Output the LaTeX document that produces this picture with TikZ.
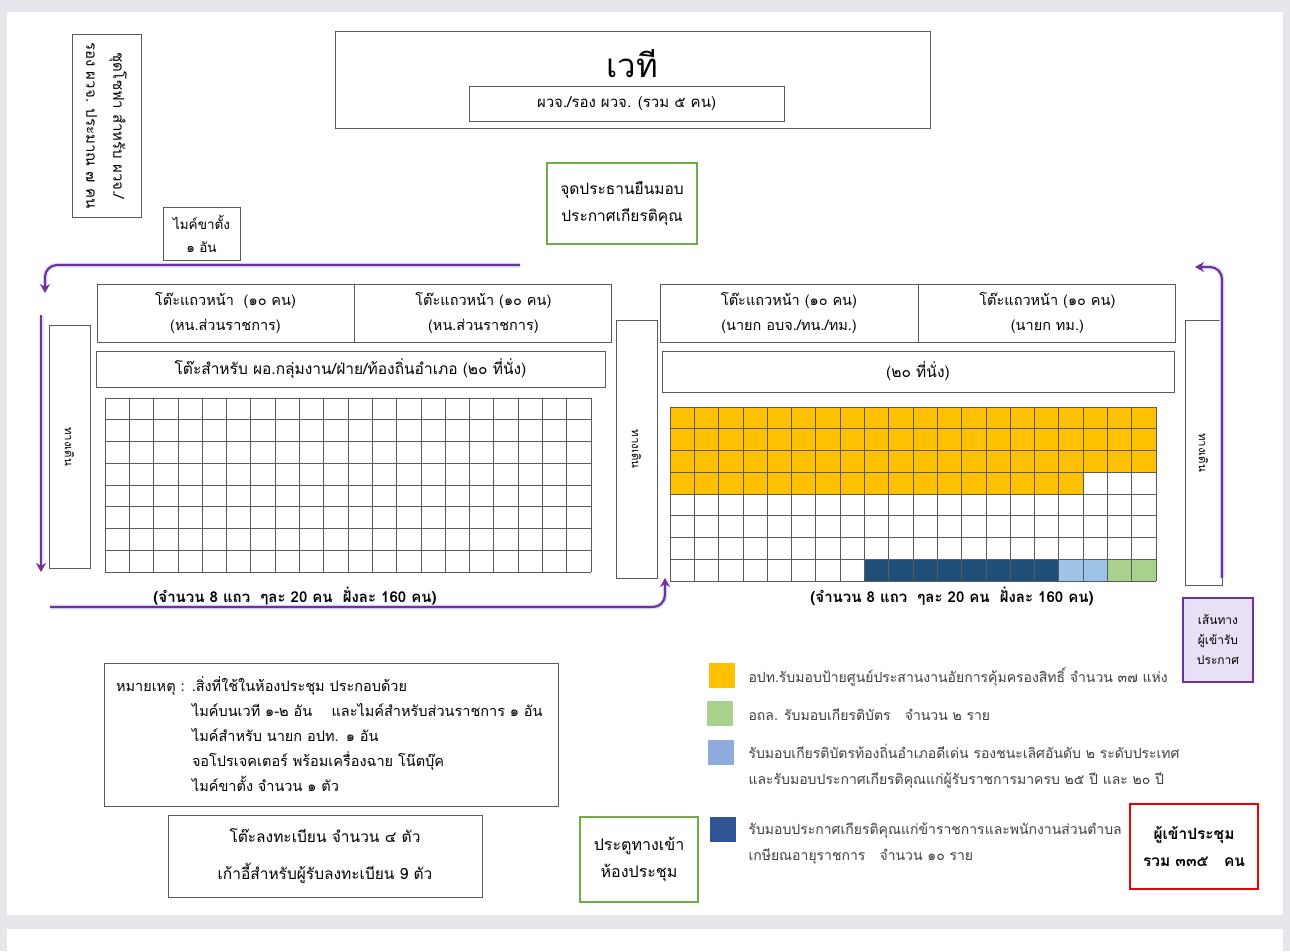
\documentclass[tikz,border=0pt]{standalone}
\usepackage{fontspec}
\setmainfont[Script=Thai]{Loma}
\usetikzlibrary{positioning, arrows.meta}
\definecolor{PageGray}{RGB}{230, 230, 236}
\definecolor{BoxGray}{RGB}{90, 90, 90}
\definecolor{DoorGreen}{RGB}{112, 173, 71}
\definecolor{RoutePurple}{RGB}{112, 48, 160}
\definecolor{RouteGlow}{RGB}{222, 232, 246}
\definecolor{RouteFill}{RGB}{232, 224, 244}
\definecolor{TotalRed}{RGB}{238, 0, 0}
\definecolor{SeatOrange}{RGB}{255, 192, 0}
\definecolor{SeatNavy}{RGB}{31, 78, 121}
\definecolor{SeatSky}{RGB}{157, 195, 230}
\definecolor{SeatGreen}{RGB}{169, 209, 142}
\definecolor{KeySky}{RGB}{143, 170, 220}
\definecolor{KeyNavy}{RGB}{47, 85, 151}
\definecolor{KeyText}{RGB}{64, 64, 64}

\begin{document}
\begin{tikzpicture}[x=1pt, y=-1pt,
    box/.style={rectangle, draw=BoxGray, line width=0.9pt, inner sep=0pt, align=center,
      font=\fontsize{14.5}{25}\selectfont},
    greenbox/.style={box, draw=DoorGreen, line width=2pt},
    aisle/.style={box, font=\fontsize{11.5}{12}\selectfont},
    keybox/.style={rectangle, inner sep=0pt, minimum width=26, minimum height=25},
    keytext/.style={anchor=west, align=left, text=KeyText, font=\fontsize{14}{26}\selectfont},
    seatline/.style={draw=BoxGray, line width=0.8pt},
    walk/.style={draw=RoutePurple, line width=2.2pt, rounded corners=12pt,
      -{Stealth[length=9pt, width=10pt]}, preaction={draw=RouteGlow, line width=5pt}}
  ]
  % page
  \fill[PageGray] (0,0) rectangle (1290,951);
  \fill[white] (7,12) rectangle (1283,915);
  \fill[white] (7,929) rectangle (1283,951);
  \useasboundingbox (0,0) rectangle (1290,951);

  % stage and top boxes
  \node[box, minimum width=595, minimum height=97] (stage) at (632.5,79.5) {};
  \node[font=\fontsize{33}{36}\selectfont] (stageTitle) at (632,64) {เวที};
  \node[box, minimum width=315, minimum height=35, font=\fontsize{15}{20}\selectfont] (stageSeats) at (626.5,103.5) {ผวจ./รอง ผวจ. (รวม ๕ คน)};
  \node[greenbox, minimum width=150, minimum height=81, font=\fontsize{15.5}{27}\selectfont] (chairSpot) at (622,203.5) {จุดประธานยืนมอบ\\ประกาศเกียรติคุณ};
  \node[box, minimum width=69, minimum height=183] (sofa) at (106.5,125.5) {};
  \node[rotate=-90, align=center, font=\fontsize{15}{27}\selectfont] (sofaText) at (sofa.center) {ชุดโซฟา สำหรับ ผวจ./\\รอง ผวจ. ประมาณ ๗ คน};
  \node[box, minimum width=77, minimum height=53, font=\fontsize{13.5}{23}\selectfont] (mic) at (201.5,233.5) {ไมค์ขาตั้ง\\๑ อัน};

  % left side
  \node[box, minimum width=257, minimum height=58] (frontLA) at (225.5,313) {โต๊ะแถวหน้า~ (๑๐ คน)\\(หน.ส่วนราชการ)};
  \node[box, minimum width=257, minimum height=58, right=0pt of frontLA] (frontLB) {โต๊ะแถวหน้า (๑๐ คน)\\(หน.ส่วนราชการ)};
  \node[box, minimum width=509, minimum height=36, font=\fontsize{15.5}{20}\selectfont] (secondL) at (350.5,369) {โต๊ะสำหรับ ผอ.กลุ่มงาน/ฝ่าย/ท้องถิ่นอำเภอ (๒๐ ที่นั่ง)};
  \node[aisle, minimum width=41, minimum height=243] (aisleL) at (69.5,446.5) {};
  \node[rotate=-90, font=\fontsize{11.5}{12}\selectfont] (aisleLText) at (aisleL.center) {ทางเดิน};
  \begin{scope}[shift={(105,398)}, x=24.3pt, y=-21.75pt]
    \foreach \c in {0,...,20} \draw[seatline] (\c,0) -- (\c,8);
    \foreach \r in {0,...,8} \draw[seatline] (0,\r) -- (20,\r);
  \end{scope}
  \node[font=\bfseries\fontsize{15}{16}\selectfont] (countL) at (295,596) {(จำนวน 8 แถว ~ๆละ 20 คน~ ฝั่งละ 160 คน)};

  % middle aisle
  \node[aisle, minimum width=41, minimum height=258] (aisleM) at (636.5,449) {};
  \node[rotate=-90, font=\fontsize{11.5}{12}\selectfont] (aisleMText) at (aisleM.center) {ทางเดิน};

  % right side
  \node[box, minimum width=258, minimum height=58] (frontRA) at (789,313) {โต๊ะแถวหน้า (๑๐ คน)\\(นายก อบจ./ทน./ทม.)};
  \node[box, minimum width=257, minimum height=58, right=0pt of frontRA] (frontRB) {โต๊ะแถวหน้า (๑๐ คน)\\(นายก ทม.)};
  \node[box, minimum width=512, minimum height=41, font=\fontsize{15.5}{20}\selectfont] (secondR) at (918,371.5) {(๒๐ ที่นั่ง)};
  \node[aisle, minimum width=37, minimum height=265] (aisleR) at (1203.5,452.5) {};
  \node[rotate=-90, font=\fontsize{11.5}{12}\selectfont] (aisleRText) at (aisleR.center) {ทางเดิน};
  \begin{scope}[shift={(670,407)}, x=24.3pt, y=-21.75pt]
    \fill[SeatOrange] (0,0) rectangle (20,3);
    \fill[SeatOrange] (0,3) rectangle (17,4);
    \fill[SeatNavy] (8,7) rectangle (16,8);
    \fill[SeatSky] (16,7) rectangle (18,8);
    \fill[SeatGreen] (18,7) rectangle (20,8);
    \foreach \c in {0,...,20} \draw[seatline] (\c,0) -- (\c,8);
    \foreach \r in {0,...,8} \draw[seatline] (0,\r) -- (20,\r);
  \end{scope}
  \node[font=\bfseries\fontsize{15}{16}\selectfont] (countR) at (952,596) {(จำนวน 8 แถว ~ๆละ 20 คน~ ฝั่งละ 160 คน)};
  \node[box, draw=RoutePurple, fill=RouteFill, line width=2pt, minimum width=70, minimum height=84,
    font=\fontsize{12}{20}\selectfont] (routeNote) at (1218,640) {เส้นทาง\\ผู้เข้ารับ\\ประกาศ};

  % walking routes
  \coordinate (topStart) at (520,265);
  \coordinate (topEnd) at (45,293);
  \coordinate (downStart) at (41,315);
  \coordinate (downEnd) at (41,572);
  \coordinate (bottomStart) at (50,607);
  \coordinate (bottomEnd) at (665,578);
  \coordinate (upStart) at (1222,578);
  \coordinate (upEnd) at (1195,267);
  \draw[walk] (topStart) -| (topEnd);
  \draw[walk] (downStart) -- (downEnd);
  \draw[walk] (bottomStart) -| (bottomEnd);
  \draw[walk] (upStart) |- (upEnd);

  % notes
  \node[box, minimum width=454, minimum height=143, text width=430, inner xsep=12pt, align=left] (note) at (331,734.5)
    {หมายเหตุ : .สิ่งที่ใช้ในห้องประชุม ประกอบด้วย\\
     \hspace*{76pt}ไมค์บนเวที ๑-๒ อัน~~~ และไมค์สำหรับส่วนราชการ ๑ อัน\\
     \hspace*{76pt}ไมค์สำหรับ นายก อปท. ๑ อัน\\
     \hspace*{76pt}จอโปรเจคเตอร์ พร้อมเครื่องฉาย โน๊ตบุ๊ค\\
     \hspace*{76pt}ไมค์ขาตั้ง จำนวน ๑ ตัว};
  \node[box, minimum width=314, minimum height=82, font=\fontsize{15.5}{37}\selectfont] (register) at (325,856) {โต๊ะลงทะเบียน จำนวน ๔ ตัว\\เก้าอี้สำหรับผู้รับลงทะเบียน 9 ตัว};
  \node[greenbox, minimum width=118, minimum height=85, font=\fontsize{16}{27}\selectfont] (door) at (639,859.5) {ประตูทางเข้า\\ห้องประชุม};
  \node[box, draw=TotalRed, line width=2pt, minimum width=128, minimum height=85,
    font=\bfseries\fontsize{15.5}{27}\selectfont] (total) at (1194,846.5) {ผู้เข้าประชุม\\รวม ๓๓๕~~ คน};

  % legend
  \node[keybox, fill=SeatOrange] (keyOrange) at (721.5,675) {};
  \node[keybox, fill=SeatGreen] (keyGreen) at (720,713.5) {};
  \node[keybox, fill=KeySky] (keySky) at (721,752) {};
  \node[keybox, fill=KeyNavy] (keyNavy) at (722.5,829) {};
  \node[keytext] (keyOrangeText) at (745,677) {อปท.รับมอบป้ายศูนย์ประสานงานอัยการคุ้มครองสิทธิ์ จำนวน ๓๗ แห่ง};
  \node[keytext] (keyGreenText) at (745,715) {อถล. รับมอบเกียรติบัตร~~ จำนวน ๒ ราย};
  \node[keytext] (keySkyText) at (745,766) {รับมอบเกียรติบัตรท้องถิ่นอำเภอดีเด่น รองชนะเลิศอันดับ ๒ ระดับประเทศ\\และรับมอบประกาศเกียรติคุณแก่ผู้รับราชการมาครบ ๒๕ ปี และ ๒๐ ปี};
  \node[keytext] (keyNavyText) at (745,843.5) {รับมอบประกาศเกียรติคุณแก่ข้าราชการและพนักงานส่วนตำบล\\เกษียณอายุราชการ~~ จำนวน ๑๐ ราย};
\end{tikzpicture}
\end{document}
